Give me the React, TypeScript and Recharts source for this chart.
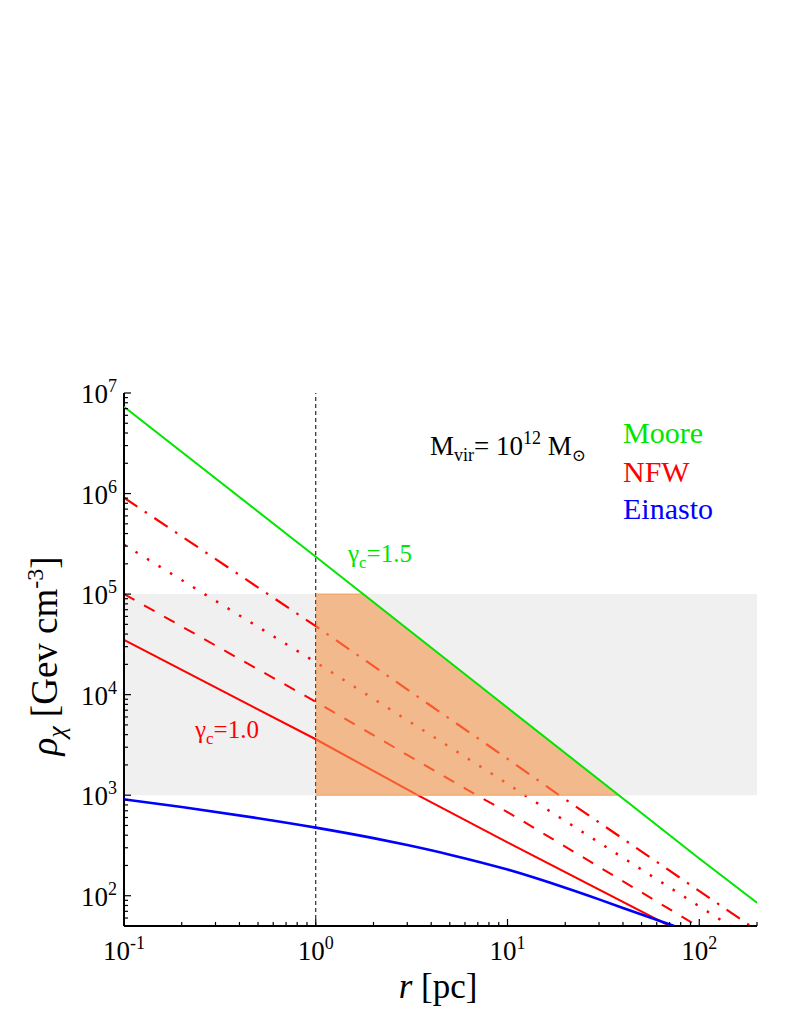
import React from 'react';
import { Area, ComposedChart, Line, ReferenceLine, XAxis, YAxis } from 'recharts';

// radius grid ticks (pc) and density ticks (GeV cm^-3)
const xTicks = [
  0.1, 0.2, 0.3, 0.4, 0.5, 0.6, 0.7, 0.8, 0.9,
  1, 2, 3, 4, 5, 6, 7, 8, 9,
  10, 20, 30, 40, 50, 60, 70, 80, 90,
  100, 200,
];
const yTicks = [
  50, 60, 70, 80, 90,
  100, 200, 300, 400, 500, 600, 700, 800, 900,
  1000, 2000, 3000, 4000, 5000, 6000, 7000, 8000, 9000,
  1e4, 2e4, 3e4, 4e4, 5e4, 6e4, 7e4, 8e4, 9e4,
  1e5, 2e5, 3e5, 4e5, 5e5, 6e5, 7e5, 8e5, 9e5,
  1e6, 2e6, 3e6, 4e6, 5e6, 6e6, 7e6, 8e6, 9e6,
  1e7,
];
const xMajor = [0.1, 1, 10, 100];
const xExp = ['-1', '0', '1', '2'];
const yMajor = [100, 1000, 1e4, 1e5, 1e6, 1e7];
const yExp = ['2', '3', '4', '5', '6', '7'];

// Moore (gamma_c = 1.5)
const mooreR = [0.1, 1, 10, 100, 200];
const mooreRho = [7.3e6, 2.35e5, 7.4e3, 235, 85];

// NFW variants
const nfwSolidR = [0.1, 1, 3.4, 10, 70];
const nfwSolidRho = [3.5e4, 3.6e3, 1000, 340, 50];
const nfwDashR = [0.1, 1, 6.9, 10, 98];
const nfwDashRho = [1e5, 8.5e3, 1000, 680, 50];
const nfwDotR = [0.1, 1, 10, 12.3, 145];
const nfwDotRho = [3.1e5, 2.1e4, 1.3e3, 1000, 50];
const nfwDashDotR = [0.1, 1, 10, 18.6, 185];
const nfwDashDotRho = [9.1e5, 4.8e4, 2.3e3, 1000, 50];

// Einasto
const einR = [0.1, 0.2, 0.5, 1, 2, 3, 5, 10, 20, 30, 50, 74];
const einRho = [910, 762, 590, 476, 374, 319, 256, 182, 120, 92, 65, 50];

// shaded bands
const bandR = [0.1, 200];
const bandLow = [1000, 1000];
const bandHigh = [1e5, 1e5];
const coreR = [1, 1.78, 38];
const coreLow = [1000, 1000, 1000];
const coreHigh = [1e5, 1e5, 1000];

const pts = (r: number[], rho: number[]) => r.map((v, i) => ({ r: v, rho: rho[i] }));
const rng = (r: number[], lo: number[], hi: number[]) =>
  r.map((v, i) => ({ r: v, band: [lo[i], hi[i]] }));

const FONT = "'Liberation Serif', 'Times New Roman', 'DejaVu Serif', serif";
const serif = { fontFamily: FONT };
const GREEN = '#00e600';
const RED = '#ff0000';
const BLUE = '#0000ff';

const same = (a: number, b: number) => Math.abs(a - b) / b < 1e-6;
const isMajor = (v: number, list: number[]) => list.some((m) => same(v, m));

function BottomTick(props: any) {
  const { x, y, payload } = props;
  const v = payload.value;
  const idx = xMajor.findIndex((m) => same(v, m));
  const major = idx >= 0;
  return (
    <g>
      <line x1={x} y1={y} x2={x} y2={y - (major ? 7 : 4)} stroke="#000" strokeWidth={1.2} />
      {major && (
        <text x={x} y={y + 34} textAnchor="middle" style={serif} fontSize={27} fill="#000">
          10
          <tspan dy={-11} fontSize={18}>
            {xExp[idx]}
          </tspan>
        </text>
      )}
    </g>
  );
}

function TopTick(props: any) {
  const { x, y, payload } = props;
  const major = isMajor(payload.value, xMajor);
  return <line x1={x} y1={y} x2={x} y2={y + (major ? 7 : 4)} stroke="#000" strokeWidth={1.2} />;
}

function LeftTick(props: any) {
  const { x, y, payload } = props;
  const v = payload.value;
  const idx = yMajor.findIndex((m) => same(v, m));
  const major = idx >= 0;
  return (
    <g>
      <line x1={x} y1={y} x2={x + (major ? 7 : 4)} y2={y} stroke="#000" strokeWidth={1.2} />
      {major && (
        <text x={x - 7} y={y + 10} textAnchor="end" style={serif} fontSize={27} fill="#000">
          10
          <tspan dy={-11} fontSize={18}>
            {yExp[idx]}
          </tspan>
        </text>
      )}
    </g>
  );
}

function RightTick(props: any) {
  const { x, y, payload } = props;
  const major = isMajor(payload.value, yMajor);
  return <line x1={x} y1={y} x2={x - (major ? 7 : 4)} y2={y} stroke="#000" strokeWidth={1.2} />;
}

export default function App() {
  const axisLine = { stroke: '#000', strokeWidth: 2 };
  return (
    <div style={{ position: 'relative', width: 770, height: 1005, fontFamily: FONT }}>
      <ComposedChart
        width={770}
        height={1005}
        margin={{ top: 385, right: 21, bottom: 27, left: 26 }}
      >
        <XAxis
          dataKey="r"
          type="number"
          scale="log"
          domain={[0.1, 200]}
          allowDataOverflow
          ticks={xTicks}
          interval={0}
          tick={<BottomTick />}
          tickLine={false}
          tickSize={0}
          tickMargin={0}
          axisLine={axisLine}
          height={60}
        />
        <XAxis
          xAxisId="top"
          orientation="top"
          dataKey="r"
          type="number"
          scale="log"
          domain={[0.1, 200]}
          allowDataOverflow
          ticks={xTicks}
          interval={0}
          tick={<TopTick />}
          tickLine={false}
          tickSize={0}
          tickMargin={0}
          axisLine={axisLine}
          height={0}
        />
        <YAxis
          type="number"
          scale="log"
          domain={[50, 1e7]}
          allowDataOverflow
          ticks={yTicks}
          interval={0}
          tick={<LeftTick />}
          tickLine={false}
          tickSize={0}
          tickMargin={0}
          axisLine={axisLine}
          width={90}
        />
        <YAxis
          yAxisId="right"
          orientation="right"
          type="number"
          scale="log"
          domain={[50, 1e7]}
          allowDataOverflow
          ticks={yTicks}
          interval={0}
          tick={<RightTick />}
          tickLine={false}
          tickSize={0}
          tickMargin={0}
          axisLine={axisLine}
          width={0}
        />

        <Area
          data={rng(bandR, bandLow, bandHigh)}
          dataKey="band"
          type="linear"
          fill="#f0f0f0"
          fillOpacity={1}
          stroke="none"
          isAnimationActive={false}
          zIndex={50}
        />
        <ReferenceLine x={1} stroke="#000" strokeWidth={1} strokeDasharray="4 3" zIndex={300} />

        <Line data={pts(nfwSolidR, nfwSolidRho)} dataKey="rho" type="linear" stroke={RED} strokeWidth={2} dot={false} isAnimationActive={false} />
        <Line data={pts(nfwDashR, nfwDashRho)} dataKey="rho" type="linear" stroke={RED} strokeWidth={2} strokeDasharray="12 11" dot={false} isAnimationActive={false} />
        <Line data={pts(nfwDotR, nfwDotRho)} dataKey="rho" type="linear" stroke={RED} strokeWidth={2.5} strokeDasharray="2.5 11" dot={false} isAnimationActive={false} />
        <Line data={pts(nfwDashDotR, nfwDashDotRho)} dataKey="rho" type="linear" stroke={RED} strokeWidth={2.2} strokeDasharray="16 9 2.5 9" dot={false} isAnimationActive={false} />

        <Area
          data={rng(coreR, coreLow, coreHigh)}
          dataKey="band"
          type="linear"
          fill="#f39449"
          fillOpacity={0.6}
          stroke="#f5a05a"
          strokeWidth={1}
          isAnimationActive={false}
          zIndex={450}
        />

        <Line data={pts(mooreR, mooreRho)} dataKey="rho" type="linear" stroke={GREEN} strokeWidth={2} dot={false} isAnimationActive={false} zIndex={500} />
        <Line data={pts(einR, einRho)} dataKey="rho" type="monotone" stroke={BLUE} strokeWidth={2.6} dot={false} isAnimationActive={false} zIndex={500} />
      </ComposedChart>

      <svg
        width={770}
        height={1005}
        style={{ position: 'absolute', left: 0, top: 0, pointerEvents: 'none', fontFamily: FONT }}
      >
        <text x={422} y={447} fontSize={27} fill="#000" style={serif}>
          M<tspan dy={6} fontSize={18}>vir</tspan>
          <tspan dy={-6}>= 10</tspan>
          <tspan dy={-11} fontSize={18}>12</tspan>
          <tspan dy={11}> M</tspan>
          <tspan dy={6} fontSize={17}>⊙</tspan>
        </text>

        <text x={615} y={435} fontSize={30} fill={GREEN} style={serif}>Moore</text>
        <text x={615} y={474} fontSize={30} fill={RED} style={serif}>NFW</text>
        <text x={615} y={511} fontSize={30} fill={BLUE} style={serif}>Einasto</text>

        <text x={340} y={554} fontSize={25} fill={GREEN} style={serif}>
          γ<tspan dy={6} fontSize={17}>c</tspan>
          <tspan dy={-6}>=1.5</tspan>
        </text>
        <text x={187} y={730} fontSize={25} fill={RED} style={serif}>
          γ<tspan dy={6} fontSize={17}>c</tspan>
          <tspan dy={-6}>=1.0</tspan>
        </text>

        <text x={430} y={990} textAnchor="middle" fontSize={35} fill="#000" style={serif}>
          <tspan fontStyle="italic">r</tspan> [pc]
        </text>

        <text
          x={49}
          y={648}
          textAnchor="middle"
          fontSize={37}
          fill="#000"
          style={serif}
          transform="rotate(-90 49 648)"
        >
          <tspan fontStyle="italic">ρ</tspan>
          <tspan dy={8} fontSize={26} fontStyle="italic">χ</tspan>
          <tspan dy={-8}> [Gev cm</tspan>
          <tspan dy={-14} fontSize={24}>-3</tspan>
          <tspan dy={14}>]</tspan>
        </text>
      </svg>
    </div>
  );
}
